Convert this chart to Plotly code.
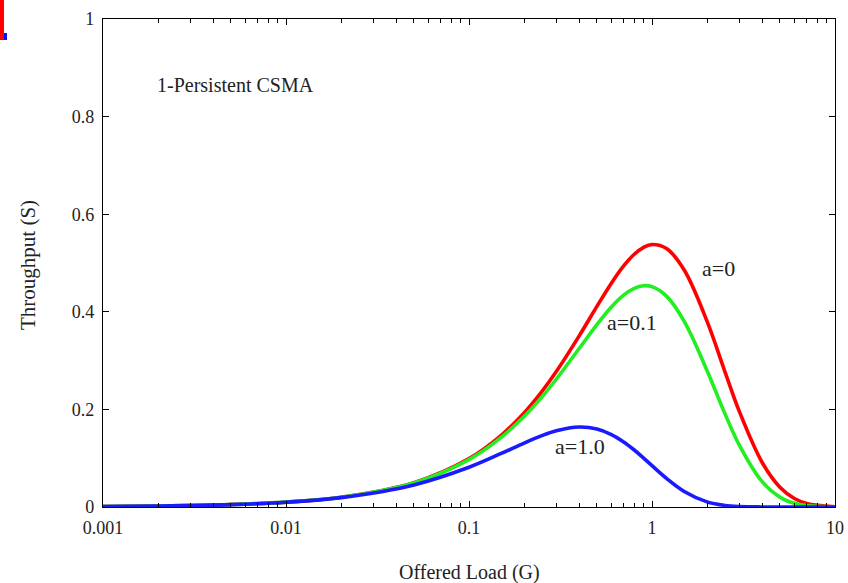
import plotly.graph_objects as go

# Offered load G (x) and throughput S
G = [0.001, 0.002, 0.005, 0.01, 0.02, 0.05, 0.1, 0.15, 0.2, 0.25, 0.3, 0.4, 0.5, 0.6, 0.7, 0.8, 0.9, 1.0, 1.2, 1.5, 2.0, 2.5, 3.0, 4.0, 5.0, 6.0, 7.0, 10.0]
S_a0 = [0.001, 0.002, 0.005, 0.0100, 0.0200, 0.0499, 0.0991, 0.1469, 0.1929, 0.2366, 0.2776, 0.3507, 0.4111, 0.4586, 0.4939, 0.5179, 0.5321, 0.538, 0.5297, 0.4856, 0.3803, 0.2781, 0.1959, 0.0912, 0.0404, 0.0173, 0.0073, 0.0005]
S_a01 = [0.001, 0.002, 0.005, 0.0100, 0.0199, 0.0494, 0.0971, 0.1426, 0.1854, 0.2252, 0.2618, 0.3247, 0.3738, 0.4099, 0.4342, 0.4481, 0.4534, 0.4515, 0.4321, 0.3804, 0.2793, 0.1919, 0.1269, 0.0519, 0.0202, 0.0075, 0.0028, 0.0001]
S_a1 = [0.001, 0.002, 0.0049, 0.0098, 0.0192, 0.0452, 0.0814, 0.1097, 0.1310, 0.1462, 0.1563, 0.1639, 0.1598, 0.1484, 0.1333, 0.1168, 0.1003, 0.0849, 0.0588, 0.0319, 0.0105, 0.0032, 0.0009, 0.0001, 0.0, 0.0, 0.0, 0.0]

x_ticks = [0.001, 0.01, 0.1, 1, 10]
x_tick_labels = ["0.001", "0.01", "0.1", "1", "10"]
y_ticks = [0, 0.2, 0.4, 0.6, 0.8, 1]
y_tick_labels = ["0", "0.2", "0.4", "0.6", "0.8", "1"]

series = [("a=0", S_a0, "#ff0000"), ("a=0.1", S_a01, "#22ee22"), ("a=1.0", S_a1, "#1a1aff")]

fig = go.Figure()
for name, ys, col in series:
    fig.add_trace(go.Scatter(x=G, y=ys, mode="lines", name=name,
                             line=dict(color=col, width=3.6, shape="spline", smoothing=1.0)))

minor_vals = [m * 10 ** e for e in range(-3, 1) for m in range(2, 10)]

font = "Liberation Serif, Times New Roman, serif"
txt = "#222"
L, R, T, B = 103, 13, 19, 76
pw = 848 - L - R
ph = 583 - T - B

fig.update_layout(
    width=848, height=583,
    margin=dict(l=L, r=R, t=T, b=B),
    paper_bgcolor="white", plot_bgcolor="white",
    showlegend=False,
    font=dict(family=font, size=18, color=txt),
    xaxis=dict(type="log", range=[-3, 1], tickvals=x_ticks, ticktext=x_tick_labels,
               ticks="inside", ticklen=6, tickcolor="black", showline=True, linecolor="black",
               linewidth=1.2, mirror="ticks", showgrid=False, zeroline=False, automargin=False,
               ticklabelstandoff=4,
               minor=dict(tickvals=minor_vals, ticks="inside", ticklen=3.5, tickcolor="black", showgrid=False)),
    yaxis=dict(range=[0, 1], tickvals=y_ticks, ticktext=y_tick_labels,
               ticks="inside", ticklen=6, tickcolor="black", showline=True, linecolor="black",
               linewidth=1.2, mirror="ticks", showgrid=False, zeroline=False, automargin=False,
               ticklabelstandoff=4),
)

def px(x):
    return (x - L) / pw

def py(y):
    return (583 - B - y) / ph

def label(x, y, text, size, xanchor="center", angle=0):
    fig.add_annotation(x=px(x), y=py(y), xref="paper", yref="paper", text=text,
                       showarrow=False, xanchor=xanchor, yanchor="middle", textangle=angle,
                       font=dict(family=font, size=size, color=txt))

# axis titles
label(469, 572, "Offered Load (G)", 20)
label(28, 265, "Throughput (S)", 21, angle=-90)
# chart title and curve labels
label(155, 85, "1-Persistent CSMA", 20, xanchor="left")
label(718, 268, "a=0", 22)
label(632, 322, "a=0.1", 22)
label(580, 446, "a=1.0", 22)

# small red/blue mark in the top-left corner
fig.add_shape(type="rect", xref="paper", yref="paper", x0=px(0), x1=px(4),
              y0=py(40), y1=py(0), fillcolor="#ff0000", line=dict(width=0))
fig.add_shape(type="rect", xref="paper", yref="paper", x0=px(4), x1=px(7),
              y0=py(40), y1=py(33), fillcolor="#1010ff", line=dict(width=0))

fig.write_html("out.html", config={"displayModeBar": False},
               post_script="document.body.style.margin='0px';document.body.style.overflow='hidden';")
